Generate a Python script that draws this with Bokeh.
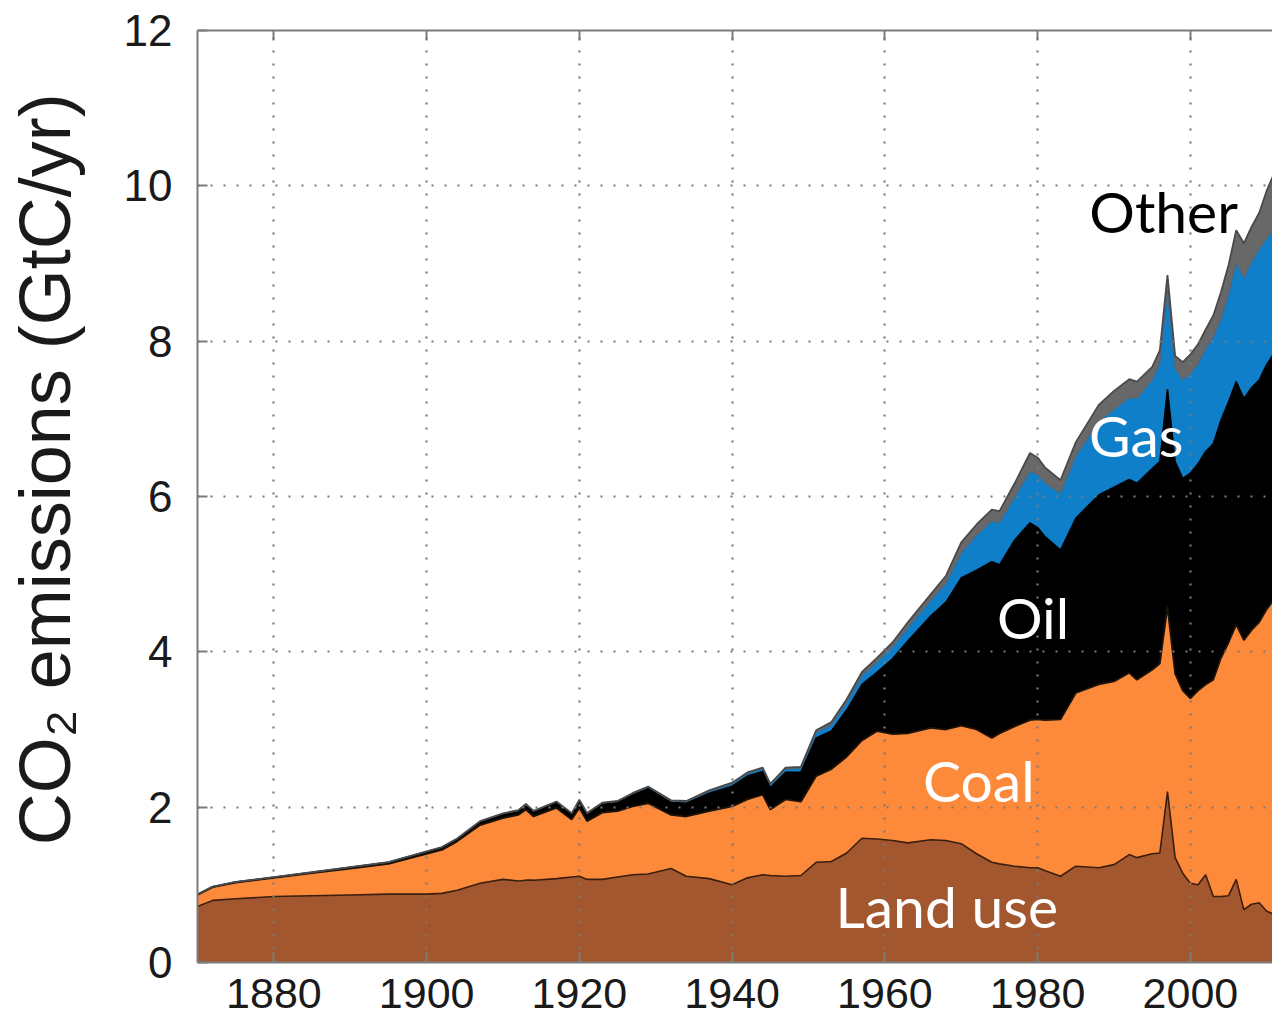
from bokeh.plotting import figure
from bokeh.models import (ColumnDataSource, FixedTicker, LinearAxis, Label,
                          CustomJSTickFormatter)
from bokeh.embed import file_html
from bokeh.resources import INLINE

# Annual CO2 emissions by source, GtC/yr
years = [1870, 1872, 1875, 1880, 1885, 1890, 1895, 1900, 1902, 1904,
         1907, 1910, 1912, 1913, 1914, 1917, 1919, 1920, 1921, 1923,
         1925, 1927, 1929, 1932, 1934, 1937, 1940, 1942, 1944, 1945,
         1947, 1949, 1951, 1953, 1955, 1957, 1959, 1961, 1963, 1966,
         1968, 1970, 1972, 1974, 1975, 1977, 1979, 1980, 1981, 1983,
         1985, 1988, 1990, 1992, 1993, 1995, 1996, 1997, 1998, 1999,
         2000, 2001, 2002, 2003, 2004, 2005, 2006, 2007, 2008, 2009,
         2010, 2011]

land_use = [0.72, 0.80, 0.82, 0.85, 0.86, 0.87, 0.88, 0.88, 0.89, 0.93,
            1.02, 1.07, 1.05, 1.06, 1.06, 1.08, 1.10, 1.11, 1.07, 1.07,
            1.10, 1.13, 1.14, 1.21, 1.11, 1.08, 1.00, 1.09, 1.13, 1.12,
            1.11, 1.12, 1.29, 1.30, 1.41, 1.60, 1.59, 1.57, 1.54, 1.58,
            1.57, 1.53, 1.40, 1.29, 1.27, 1.24, 1.22, 1.22, 1.18, 1.11,
            1.24, 1.22, 1.26, 1.39, 1.35, 1.40, 1.41, 2.20, 1.35, 1.15,
            1.02, 1.00, 1.13, 0.85, 0.85, 0.86, 1.07, 0.68, 0.75, 0.77,
            0.66, 0.62]

coal = [0.15, 0.17, 0.21, 0.24, 0.29, 0.34, 0.39, 0.52, 0.56, 0.63,
        0.75, 0.79, 0.85, 0.91, 0.82, 0.91, 0.74, 0.88, 0.75, 0.86,
        0.85, 0.88, 0.91, 0.69, 0.77, 0.87, 1.01, 1.01, 1.03, 0.85,
        0.99, 0.95, 1.11, 1.19, 1.24, 1.26, 1.39, 1.37, 1.41, 1.44,
        1.43, 1.52, 1.60, 1.60, 1.68, 1.80, 1.90, 1.91, 1.94, 2.02,
        2.23, 2.36, 2.36, 2.34, 2.29, 2.37, 2.44, 2.38, 2.37, 2.35,
        2.38, 2.50, 2.45, 2.79, 3.07, 3.26, 3.28, 3.47, 3.53, 3.61,
        3.89, 4.06]

oil = [0.005, 0.005, 0.006, 0.008, 0.010, 0.015, 0.020, 0.025, 0.030, 0.030,
       0.04, 0.05, 0.05, 0.06, 0.06, 0.07, 0.07, 0.09, 0.09, 0.11,
       0.11, 0.15, 0.19, 0.16, 0.17, 0.23, 0.26, 0.30, 0.30, 0.28,
       0.35, 0.38, 0.49, 0.49, 0.60, 0.72, 0.76, 0.97, 1.19, 1.44,
       1.64, 1.90, 2.05, 2.27, 2.17, 2.40, 2.54, 2.47, 2.36, 2.18,
       2.25, 2.44, 2.50, 2.49, 2.53, 2.59, 2.60, 2.80, 2.73, 2.73,
       2.90, 2.92, 3.00, 3.04, 3.06, 3.10, 3.13, 3.11, 3.12, 3.12,
       3.15, 3.17]

gas = [0.0, 0.0, 0.0, 0.0, 0.0, 0.0, 0.0, 0.003, 0.004, 0.004,
       0.005, 0.006, 0.006, 0.007, 0.007, 0.008, 0.008, 0.009, 0.009, 0.011,
       0.012, 0.014, 0.016, 0.018, 0.020, 0.024, 0.030, 0.032, 0.035, 0.035,
       0.04, 0.05, 0.07, 0.08, 0.10, 0.11, 0.13, 0.15, 0.17, 0.20,
       0.24, 0.32, 0.45, 0.52, 0.54, 0.55, 0.66, 0.68, 0.69, 0.73,
       0.80, 0.94, 1.00, 1.05, 1.09, 1.14, 1.26, 1.26, 1.20, 1.27,
       1.28, 1.28, 1.32, 1.37, 1.30, 1.38, 1.52, 1.55, 1.62, 1.68,
       1.62, 1.60]

other = [0.002, 0.002, 0.002, 0.002, 0.002, 0.002, 0.002, 0.003, 0.003, 0.003,
         0.004, 0.005, 0.005, 0.005, 0.005, 0.005, 0.005, 0.006, 0.006, 0.007,
         0.008, 0.009, 0.010, 0.010, 0.010, 0.012, 0.015, 0.015, 0.015, 0.015,
         0.018, 0.020, 0.030, 0.035, 0.040, 0.050, 0.055, 0.060, 0.070, 0.080,
         0.10, 0.14, 0.14, 0.15, 0.15, 0.18, 0.24, 0.22, 0.20, 0.17,
         0.18, 0.22, 0.24, 0.24, 0.22, 0.17, 0.17, 0.21, 0.16, 0.23,
         0.25, 0.26, 0.25, 0.28, 0.35, 0.38, 0.43, 0.45, 0.45, 0.47,
         0.62, 0.72]

series_names = ["Land use", "Coal", "Oil", "Gas", "Other"]
x_tick_years = [1880, 1900, 1920, 1940, 1960, 1980, 2000]
y_ticks = [0, 2, 4, 6, 8, 10, 12]

fill_colors = ["#A3572F", "#FD8A3B", "#000000", "#0F7FCA", "#686868"]
edge_colors = ["#3a1e0e", "#1e1308", "#000000", "#46607a", "#4a4a4a"]
edge_widths = [1.6, 1.8, 1.6, 1.0, 1.8]

stack_cols = ["land_use", "coal", "oil", "gas", "other"]
source = ColumnDataSource(dict(year=years, land_use=land_use, coal=coal,
                               oil=oil, gas=gas, other=other))

axis_color = "#7c7c7c"
text_color = "#1a1a1a"

p = figure(width=1272, height=1018,
           x_range=(1870, 2010.75), y_range=(0, 12),
           output_backend="svg", toolbar_location=None,
           min_border_left=197, min_border_right=0,
           min_border_top=30, min_border_bottom=56,
           background_fill_color="white", border_fill_color="white")
p.outline_line_color = None

# stacked source layers with dark edges along each boundary
p.varea_stack(stack_cols, x="year", color=fill_colors, source=source)
p.vline_stack(stack_cols, x="year", color=edge_colors,
              line_width=edge_widths, source=source)

# axes: box style with inward ticks
xax = p.xaxis[0]
xax.ticker = FixedTicker(ticks=x_tick_years)
xax.major_label_text_font = "Liberation Sans"
xax.major_label_text_font_size = "43px"
xax.major_label_text_color = text_color
xax.major_label_standoff = 16

top_axis = LinearAxis(ticker=FixedTicker(ticks=x_tick_years),
                      formatter=CustomJSTickFormatter(code="return '';"),
                      major_label_standoff=0)
p.add_layout(top_axis, "above")

yax = p.yaxis[0]
yax.ticker = FixedTicker(ticks=y_ticks)
yax.major_label_text_font = "Liberation Sans"
yax.major_label_text_font_size = "44px"
yax.major_label_text_color = text_color
yax.major_label_standoff = 25
# leading no-break spaces lift the title a little above the frame centre
yax.axis_label = "\u00a0\u00a0\u2009CO\u2082 emissions (GtC/yr)"
yax.axis_label_text_font = "Liberation Sans"
yax.axis_label_text_font_size = "72px"
yax.axis_label_text_font_style = "normal"
yax.axis_label_text_color = text_color
yax.axis_label_standoff = 36

for ax in (xax, top_axis, yax):
    ax.axis_line_color = axis_color
    ax.axis_line_width = 2
    ax.major_tick_line_color = axis_color
    ax.major_tick_line_width = 2
    ax.major_tick_in = 10
    ax.major_tick_out = 0
    ax.minor_tick_line_color = None

# dotted grid drawn over the filled layers
p.grid.grid_line_color = "#7a7a7a"
p.grid.grid_line_width = 2.2
p.grid.grid_line_dash = "2 11"
p.grid.level = "guide"

# in-chart layer names
label_pos = [(1968.1, 0.73), (1972.3, 2.35), (1979.4, 4.45),
             (1992.9, 6.79), (1996.5, 9.68)]
label_colors = ["white", "white", "white", "white", "black"]
for name, (lx, ly), c in zip(series_names, label_pos, label_colors):
    p.add_layout(Label(x=lx, y=ly, text=name, text_align="center",
                       text_baseline="alphabetic", text_font="Lato",
                       text_font_size="57px", text_color=c))

open("out.html", "w").write(file_html(p, INLINE))
